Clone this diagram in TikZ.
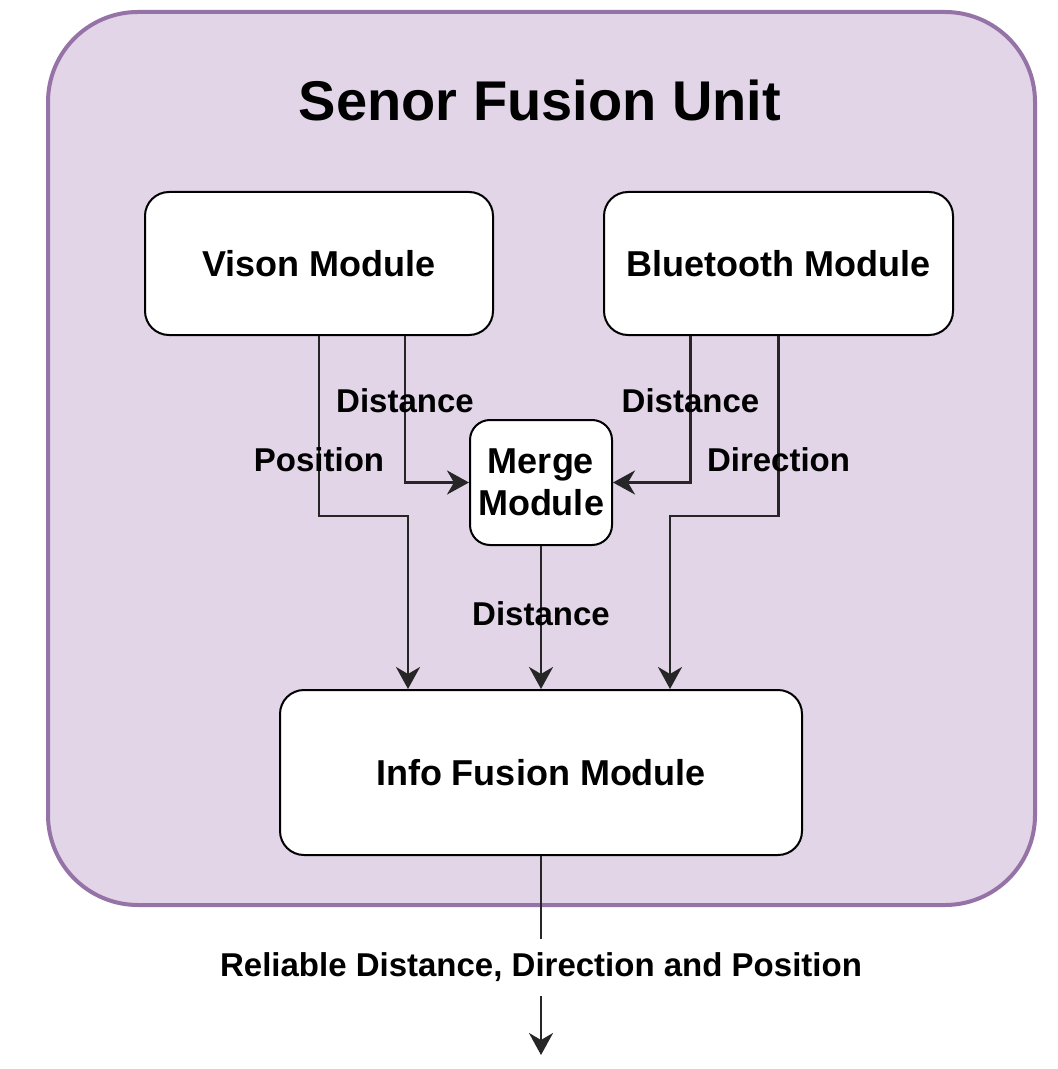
\documentclass[tikz,border=0pt]{standalone}
\usepackage{fontspec}
\setmainfont{Liberation Sans}
\usetikzlibrary{arrows.meta}
\definecolor{unitfill}{HTML}{E1D5E7}
\definecolor{unitline}{HTML}{9673A6}

\begin{document}
\begin{tikzpicture}[x=0.5pt,y=-0.5pt,
  module/.style={draw,fill=white,line width=1pt,rounded corners=12pt,inner sep=0pt,align=center,
    font=\fontsize{18}{21}\selectfont\bfseries},
  wire/.style={line width=1.4pt,draw=black!85,-{Stealth[length=11pt,width=12pt,inset=3.5pt]}},
  tag/.style={inner sep=0pt,font=\fontsize{16.5}{19}\selectfont\bfseries}]
  \fill [white] (0,0) rectangle (1057,1069);
  \useasboundingbox (0,0) rectangle (1057,1069);
  % the unit
  \draw [unitline,fill=unitfill,line width=2pt,rounded corners=45pt] (48,12) rectangle (1035,905);
  \node [font=\fontsize{28}{32}\selectfont\bfseries] (title) at (540,100) {Senor Fusion Unit};
  % modules
  \node [module,minimum width=174pt,minimum height=71.5pt] (vis) at (319,263.5) {Vison Module};
  \node [module,minimum width=174.5pt,minimum height=71.5pt] (bt) at (778.5,263.5) {Bluetooth Module};
  \node [module,rounded corners=10pt,minimum width=71pt,minimum height=62.5pt] (merge) at (541,482.5) {Merge\\Module};
  \node [module,minimum width=261pt,minimum height=82.5pt] (info) at (541,772.5) {Info Fusion Module};
  \coordinate (out) at (541,1055);
  % connectors
  \draw [wire] (vis.south) -- node[tag,pos=0.69] {Position} ++(0,180) -| ([xshift=-66.5pt]info.north);
  \draw [wire] ([xshift=43pt]vis.south) |- node[tag,pos=0.22] {Distance} (merge.west);
  \draw [wire] ([xshift=-44pt]bt.south) |- node[tag,pos=0.22] {Distance} (merge.east);
  \draw [wire] (bt.south) -- node[tag,pos=0.69] {Direction} ++(0,180) -| ([xshift=64.5pt]info.north);
  \draw [wire] (merge.south) -- node[tag,pos=0.47] {Distance} (info.north);
  \draw [wire] (info.south) -- node[tag,fill=white,inner ysep=7pt,pos=0.56] {Reliable Distance, Direction and Position} (out);
\end{tikzpicture}
\end{document}
